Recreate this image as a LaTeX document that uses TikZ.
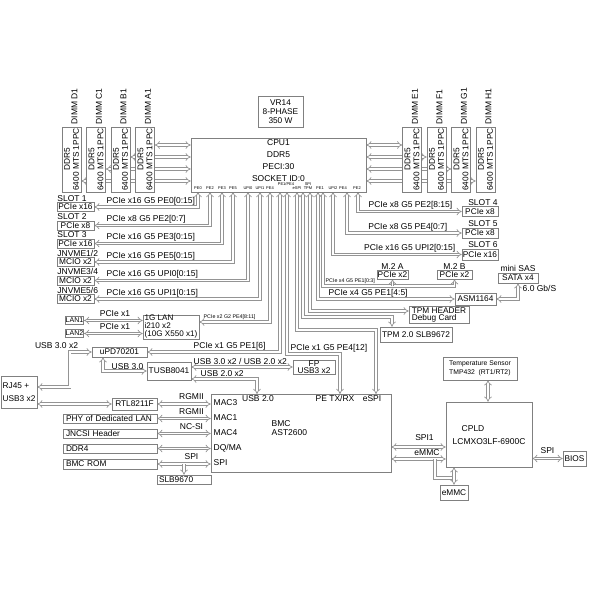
\documentclass[tikz,border=0pt]{standalone}
\usepackage{fontspec}
\setmainfont{Liberation Sans}
\usetikzlibrary{arrows.meta,backgrounds}

\tikzset{
  blk/.style={draw=black!50, fill=white, line width=0.6pt, inner sep=0.5pt, font=\fontsize{8.3}{9}\selectfont},
  lbl/.style={inner sep=0.5pt, font=\fontsize{8.5}{9}\selectfont},
  note/.style={inner sep=0.5pt, font=\fontsize{5.3}{6}\selectfont},
  pinlbl/.style={inner sep=0.3pt, font=\fontsize{4}{4.4}\selectfont},
  bus/.style={draw=black!42, double=white, double distance=1.9pt, line width=0.7pt, Implies-Implies},
}

\begin{document}
\begin{tikzpicture}[x=1pt,y=-1pt]
\useasboundingbox (0,0) rectangle (590,590);

% power and processor
\node[blk, minimum width=45pt, minimum height=31pt, align=center] (vr) at (280.5,111.5) {VR14\\8-PHASE\\350 W};
\node[blk, minimum width=175pt, minimum height=54pt] (cpu) at (278.5,165) {};
\node[lbl, align=center, font=\fontsize{8.5}{12}\selectfont] (cputxt) at (278.5,161) {CPU1\\DDR5\\PECI:30\\SOCKET ID:0};
\foreach \t/\x in {PE0/198,PE2/210,PE3/222,PE5/233,UPI0/248,UPI1/260,PE4/270,eSPI/297,PE1/320,UPI2/333,PE4/343,PE2/357}
  \node[pinlbl] (pin\x) at (\x,188) {\t};
\node[pinlbl] (pin286) at (286,184) {PE1/PE4};
\node[pinlbl, align=center] (pin308) at (308,186) {SPI\\TPM};
\foreach \n/\x in {1/198,2/210,3/222,4/233,5/248,6/260,7/270,8/280,9/287,10/297,11/303,12/310,13/318,14/323,15/333,16/347,17/358}
  \coordinate (p\n) at (\x,192);

% memory
\foreach \n/\x in {D1/71.5,C1/96,B1/120.5,A1/145,E1/412,F1/436.5,G1/461,H1/485.5}{
  \node[blk, minimum width=19pt, minimum height=65pt] (dimm\n) at (\x,159.5) {};
  \node[lbl, rotate=90, align=center, font=\fontsize{8.3}{9}\selectfont] (dimm\n t) at (\x,159.5) {DDR5\\6400 MTS 1PPC};
  \node[lbl, rotate=90, anchor=west] (dimm\n l) at (\x+3,125) {DIMM \n};
}

% left slots
\node[blk, minimum width=37pt, minimum height=9pt] (slot1) at (75.5,207) {PCIe x16};
\node[lbl, anchor=south west] (slot1l) at (slot1.north west) {SLOT 1};
\node[lbl, anchor=south west] (bus1) at (106,205.5) {PCIe x16 G5 PE0[0:15]};
\node[blk, minimum width=37pt, minimum height=9pt] (slot2) at (75.5,225.5) {PCIe x8};
\node[lbl, anchor=south west] (slot2l) at (slot2.north west) {SLOT 2};
\node[lbl, anchor=south west] (bus2) at (106,224) {PCIe x8 G5 PE2[0:7]};
\node[blk, minimum width=37pt, minimum height=9pt] (slot3) at (75.5,243.5) {PCIe x16};
\node[lbl, anchor=south west] (slot3l) at (slot3.north west) {SLOT 3};
\node[lbl, anchor=south west] (bus3) at (106,242) {PCIe x16 G5 PE3[0:15]};
\node[blk, minimum width=37pt, minimum height=9pt] (nvme1) at (75.5,262) {MCIO x2};
\node[lbl, anchor=south west] (nvme1l) at (nvme1.north west) {JNVME1/2};
\node[lbl, anchor=south west] (bus4) at (106,260.5) {PCIe x16 G5 PE5[0:15]};
\node[blk, minimum width=37pt, minimum height=9pt] (nvme2) at (75.5,280.5) {MCIO x2};
\node[lbl, anchor=south west] (nvme2l) at (nvme2.north west) {JNVME3/4};
\node[lbl, anchor=south west] (bus5) at (106,279) {PCIe x16 G5 UPI0[0:15]};
\node[blk, minimum width=37pt, minimum height=9pt] (nvme3) at (75.5,299) {MCIO x2};
\node[lbl, anchor=south west] (nvme3l) at (nvme3.north west) {JNVME5/6};
\node[lbl, anchor=south west] (bus6) at (106,297.5) {PCIe x16 G5 UPI1[0:15]};

% right slots
\node[blk, minimum width=36pt, minimum height=9.5pt] (slot4) at (480,211.5) {PCIe x8};
\node[lbl, anchor=south east] (slot4l) at (slot4.north east) {SLOT 4};
\node[lbl, anchor=south east] (bus17) at (453,210) {PCIe x8 G5 PE2[8:15]};
\node[blk, minimum width=36pt, minimum height=10pt] (slot5) at (480,233) {PCIe x8};
\node[lbl, anchor=south east] (slot5l) at (slot5.north east) {SLOT 5};
\node[lbl, anchor=south east] (bus16) at (448,231.5) {PCIe x8 G5 PE4[0:7]};
\node[blk, minimum width=36pt, minimum height=11pt] (slot6) at (480,254.5) {PCIe x16};
\node[lbl, anchor=south east] (slot6l) at (slot6.north east) {SLOT 6};
\node[lbl, anchor=south east] (bus15) at (456,253) {PCIe x16 G5 UPI2[0:15]};

% m.2, sata
\node[blk, minimum width=31pt, minimum height=9pt] (m2a) at (392.5,274.5) {PCIe x2};
\node[lbl, anchor=south] (m2al) at (m2a.north) {M.2 A};
\node[blk, minimum width=35pt, minimum height=9pt] (m2b) at (454.5,274.5) {PCIe x2};
\node[lbl, anchor=south] (m2bl) at (m2b.north) {M.2 B};
\node[note, anchor=south west] (bus14) at (325,284.5) {PCIe x4 G5 PE1[0:3]};
\node[blk, minimum width=41pt, minimum height=12pt] (asm) at (475.5,299) {ASM1164};
\node[lbl, anchor=south west] (bus13) at (328,297.5) {PCIe x4 G5 PE1[4:5]};
\node[blk, minimum width=40pt, minimum height=10pt] (sata) at (518,278) {SATA x4};
\node[lbl, anchor=south] (satal) at (sata.north) {mini SAS};
\node[lbl, anchor=west] (satar) at (522,288.5) {6.0 Gb/S};

% tpm
\node[blk, minimum width=60pt, minimum height=17pt, align=left, font=\fontsize{8.3}{8}\selectfont] (tpmh) at (439,315) {TPM HEADER\\Debug Card};
\node[blk, minimum width=72pt, minimum height=15pt] (tpm2) at (416,334.5) {TPM 2.0 SLB9672};
\coordinate (tpmj) at (392,317);

% lan, usb
\node[blk, minimum width=16pt, minimum height=8pt, font=\fontsize{7}{8}\selectfont] (lan1) at (74.5,320.5) {LAN1};
\node[blk, minimum width=16pt, minimum height=8pt, font=\fontsize{7}{8}\selectfont] (lan2) at (74.5,333.5) {LAN2};
\node[lbl] (lan1t) at (115,314) {PCIe x1};
\node[lbl] (lan2t) at (115,327) {PCIe x1};
\node[blk, minimum width=56pt, minimum height=24pt, inner xsep=1.2pt, align=left, font=\fontsize{8.1}{8}\selectfont] (i210) at (171,327) {1G LAN\\i210 x2\\(10G X550 x1)};
\node[note, anchor=south west] (bus7) at (203,320.5) {PCIe x2 G2 PE4[8:11]};
\node[blk, minimum width=55pt, minimum height=10pt] (upd) at (119.5,352) {uPD70201};
\node[lbl, anchor=south west] (bus8) at (193,350.5) {PCIe x1 G5 PE1[6]};
\node[lbl] (usb3t) at (56.5,346) {USB 3.0 x2};
\node[blk, minimum width=44pt, minimum height=18pt] (tusb) at (169,371) {TUSB8041};
\node[lbl, anchor=south west] (usb30t) at (111,370) {USB 3.0};
\node[blk, minimum width=42pt, minimum height=14pt, align=center, font=\fontsize{8.3}{7.5}\selectfont] (fp) at (314,367) {FP\\USB3 x2};
\node[lbl, anchor=south west] (fpt) at (193,365) {USB 3.0 x2 / USB 2.0 x2};
\node[lbl, anchor=south west] (usb2t) at (200,377.5) {USB 2.0 x2};
\node[lbl, anchor=south west] (bus9) at (290,352.5) {PCIe x1 G5 PE4[12]};
\node[blk, minimum width=36pt, minimum height=32pt, align=left, font=\fontsize{8.3}{13}\selectfont] (rj45) at (19,392) {RJ45 +\\USB3 x2};

% bmc
\node[blk, minimum width=180pt, minimum height=78pt] (bmc) at (301,433) {};
\coordinate (bmcUSB) at (257,394);
\coordinate (bmcPE) at (340,394);
\coordinate (bmcSPI) at (376,394);
\node[lbl] (bmcusbl) at (258,398.5) {USB 2.0};
\node[lbl] (bmcpel) at (335,398.5) {PE TX/RX};
\node[lbl] (bmcspil) at (372,398.5) {eSPI};
\node[lbl, anchor=west, align=left] (bmctxt) at (271,428) {BMC\\AST2600};
\foreach \t/\y in {MAC3/403,MAC1/418,MAC4/433,DQ\slash MA/448,SPI/463}
  \node[lbl, anchor=west] (mac\y) at (213,\y) {\t};
\node[blk, minimum width=45pt, minimum height=12pt] (rtl) at (134.5,404) {RTL8211F};
\node[blk, text width=88pt, inner xsep=3pt, minimum height=9pt, align=left] (phy) at (110,418.5) {PHY of Dedicated LAN};
\node[blk, text width=88pt, inner xsep=3pt, minimum height=9pt, align=left] (jncsi) at (110,433.5) {JNCSI Header};
\node[blk, text width=88pt, inner xsep=3pt, minimum height=9pt, align=left] (ddr4) at (110,448.5) {DDR4};
\node[blk, text width=88pt, inner xsep=3pt, minimum height=10pt, align=left] (rom) at (110,464) {BMC ROM};
\node[blk, text width=50pt, inner xsep=2pt, minimum height=9pt, align=left] (slb) at (184,479.5) {SLB9670};
\node[lbl] (rgmii1) at (191.5,397) {RGMII};
\node[lbl] (rgmii2) at (191.5,412) {RGMII};
\node[lbl] (ncsi) at (191.5,427) {NC-SI};
\node[lbl] (spil) at (191.5,457) {SPI};

% cpld
\node[blk, minimum width=74pt, minimum height=23pt, align=left, font=\fontsize{6.8}{9}\selectfont] (temp) at (480,368.5) {Temperature Sensor\\TMP432~~(RT1/RT2)};
\node[blk, minimum width=86pt, minimum height=65pt] (cpld) at (489,434.5) {};
\node[lbl, anchor=west] (cpldt) at (461,429) {CPLD};
\node[lbl, anchor=west] (cpldn) at (452,442) {LCMXO3LF-6900C};
\node[blk, minimum width=23pt, minimum height=15pt] (bios) at (574.5,458.5) {BIOS};
\node[lbl] (biosl) at (547.5,451) {SPI};
\node[blk, minimum width=28pt, minimum height=15pt] (emmc) at (454,492.5) {eMMC};
\node[lbl] (spi1l) at (424.5,438) {SPI1};
\node[lbl] (emmcl) at (427,453) {eMMC};
\coordinate (emj) at (435,459);

\begin{scope}[on background layer]
% memory channels
\foreach \n/\y in {A1/145,B1/157,C1/169,D1/181}
  \draw[bus] (cpu.west |- 0,\y) -- (dimm\n.east |- 0,\y);
\foreach \n/\y in {E1/145,F1/157,G1/169,H1/181}
  \draw[bus] (cpu.east |- 0,\y) -- (dimm\n.west |- 0,\y);
% pcie fan-out
\draw[bus] (slot1.east) -| (p1);
\draw[bus] (slot2.east) -| (p2);
\draw[bus] (slot3.east) -| (p3);
\draw[bus] (nvme1.east) -| (p4);
\draw[bus] (nvme2.east) -| (p5);
\draw[bus] (nvme3.east) -| (p6);
\draw[bus] (slot4.west) -| (p17);
\draw[bus] (slot5.west) -| (p16);
\draw[bus] (slot6.west) -| (p15);
\draw[bus] (p14) |- (m2b.south |- 0,286) -- (m2b.south);
\draw[bus,-Implies] (m2a.south |- 0,286) -- (m2a.south);
\draw[bus] (p13) |- (asm.west);
\draw[bus] (asm.east) -| (sata.south);
\draw[bus] (p12) |- (tpmh.west |- 0,311);
\draw[bus] (p11) |- (tpmj) -- (tpmj |- tpm2.north);
\draw[bus] (p10) |- (bmcSPI |- 0,330) -- (bmcSPI);
\draw[bus] (p9) |- (bmcPE |- 0,354) -- (bmcPE);
\draw[bus] (upd.east) -| (p8);
\draw[bus] (i210.east |- 0,322) -| (p7);
% lan and usb
\draw[bus] (lan1.east) -- (lan1.east -| i210.west);
\draw[bus] (lan2.east) -- (lan2.east -| i210.west);
\draw[bus] (upd.west) -- ++(-22,0) |- (rj45.east |- 0,387);
\draw[bus] ([xshift=-16.5pt]upd.south) |- (tusb.west);
\draw[bus] (tusb.east |- fp.west) -- (fp.west);
\draw[bus] (tusb.east |- 0,379) -| (bmcUSB);
\draw[bus] (rj45.east |- rtl.west) -- (rtl.west);
% bmc side
\draw[bus] (rtl.east) -- (rtl.east -| bmc.west);
\draw[bus] (phy.east) -- (phy.east -| bmc.west);
\draw[bus] (jncsi.east) -- (jncsi.east -| bmc.west);
\draw[bus] (ddr4.east) -- (ddr4.east -| bmc.west);
\draw[bus] (rom.east) -- (rom.east -| bmc.west);
\draw[bus,-Implies] (slb.north |- rom.east) -- (slb.north);
\draw[bus] (bmc.east |- 0,447) -- (cpld.west |- 0,447);
\draw[bus] (bmc.east |- 0,459) -- (cpld.west |- 0,459);
\draw[bus,-] (emj) |- (emmc.north |- 0,478);
\draw[bus] (emmc.north) -- (emmc.north |- cpld.south);
\draw[bus] ([xshift=8pt]temp.south) -- ([xshift=8pt]temp.south |- cpld.north);
\draw[bus] (cpld.east |- bios.west) -- (bios.west);
\end{scope}
\end{tikzpicture}
\end{document}
